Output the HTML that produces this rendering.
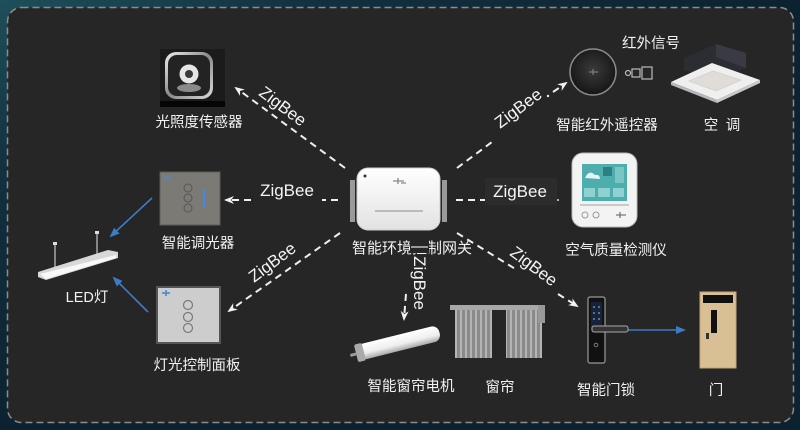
<!DOCTYPE html>
<html>
<head>
<meta charset="utf-8">
<style>
html,body{margin:0;padding:0;background:#0f2732;}
svg{display:block;}
.lbl{font-family:"Liberation Sans","Noto Sans CJK SC",sans-serif;font-size:14.5px;fill:#f2f2f2;text-anchor:middle;}
.zb{font-family:"Liberation Sans",sans-serif;font-size:17px;fill:#f4f4f4;text-anchor:middle;}
.dl{stroke:#efefef;stroke-width:2;stroke-dasharray:7 5;fill:none;}
.bl{stroke:#3f7bc4;stroke-width:1.6;fill:none;}
</style>
</head>
<body>
<svg width="800" height="430" viewBox="0 0 800 430" xmlns="http://www.w3.org/2000/svg">
<defs>
  <radialGradient id="bgg" cx="0" cy="0" r="1">
    <stop offset="0" stop-color="#1d4f5a"/>
    <stop offset="0.4" stop-color="#123040"/>
    <stop offset="1" stop-color="#0c2230"/>
  </radialGradient>
  <linearGradient id="gw" x1="0" y1="0" x2="0" y2="1">
    <stop offset="0" stop-color="#ffffff"/>
    <stop offset="1" stop-color="#e2e2e2"/>
  </linearGradient>
  <radialGradient id="ir" cx="0.5" cy="0.45" r="0.6">
    <stop offset="0" stop-color="#3a3a3a"/>
    <stop offset="0.7" stop-color="#1e1e1e"/>
    <stop offset="1" stop-color="#111"/>
  </radialGradient>
  <linearGradient id="tube" x1="0" y1="0" x2="0" y2="1">
    <stop offset="0" stop-color="#ffffff"/>
    <stop offset="0.6" stop-color="#eeeeee"/>
    <stop offset="1" stop-color="#a8a8a8"/>
  </linearGradient>
  <pattern id="str" width="5" height="10" patternUnits="userSpaceOnUse">
    <rect width="5" height="10" fill="#8a8a8a"/>
    <rect width="2" height="10" fill="#b4b4b4"/>
  </pattern>
  <linearGradient id="sens" x1="0" y1="0" x2="1" y2="1">
    <stop offset="0" stop-color="#f0f0f0"/>
    <stop offset="0.5" stop-color="#8a8a8a"/>
    <stop offset="1" stop-color="#dcdcdc"/>
  </linearGradient>
  <marker id="wa" viewBox="0 0 10 10" refX="8" refY="5" markerWidth="10" markerHeight="10" markerUnits="userSpaceOnUse" orient="auto">
    <path d="M0,1 L10,5 L0,9 L3,5 z" fill="#f2f2f2"/>
  </marker>
  <marker id="ba" viewBox="0 0 10 10" refX="8" refY="5" markerWidth="10" markerHeight="10" markerUnits="userSpaceOnUse" orient="auto">
    <path d="M0,1 L10,5 L0,9 z" fill="#3f7bc4"/>
  </marker>
</defs>

<!-- background -->
<rect width="800" height="430" fill="url(#bgg)"/>
<rect x="7.5" y="7.5" width="786" height="415" rx="14" fill="#262626" stroke="#8c8c8c" stroke-width="1.5" stroke-dasharray="7 4"/>

<!-- ===== connectors ===== -->
<line class="dl" x1="345" y1="168" x2="236" y2="88" marker-end="url(#wa)"/>
<line class="dl" x1="338" y1="200" x2="322" y2="200"/>
<line class="dl" x1="251" y1="200" x2="226" y2="200" marker-end="url(#wa)"/>
<line class="dl" x1="457" y1="168" x2="492" y2="142"/>
<line class="dl" x1="553" y1="92" x2="566" y2="83" stroke-dasharray="none" marker-end="url(#wa)"/>
<circle cx="548" cy="96" r="1.2" fill="#eee"/>
<line class="dl" x1="456" y1="200" x2="485" y2="200"/>
<line class="dl" x1="340" y1="233" x2="229" y2="311" marker-end="url(#wa)"/>
<line class="dl" x1="457" y1="233" x2="517" y2="270"/>
<line class="dl" x1="558" y1="294" x2="577" y2="306" marker-end="url(#wa)"/>
<line class="dl" x1="406" y1="294" x2="404" y2="319" marker-end="url(#wa)"/>

<!-- blue arrows -->
<line class="bl" x1="152" y1="198" x2="111" y2="236" marker-end="url(#ba)"/>
<line class="bl" x1="148" y1="312" x2="114" y2="278" marker-end="url(#ba)"/>
<line class="bl" x1="628" y1="330" x2="684" y2="330" marker-end="url(#ba)"/>

<!-- ===== light sensor ===== -->
<rect x="160" y="49" width="65" height="58" fill="#1b1b1b"/>
<rect x="160" y="101" width="65" height="6" fill="#050505"/>
<rect x="165" y="52" width="48" height="47" rx="11" fill="url(#sens)"/>
<rect x="168" y="55" width="42" height="41" rx="9" fill="#232323"/>
<ellipse cx="189" cy="88" rx="12" ry="4" fill="#8a8a8a"/>
<circle cx="189" cy="74" r="9.5" fill="#e6e6e6"/>
<circle cx="189" cy="74" r="4" fill="#3a3a3a"/>

<!-- ===== dimmer ===== -->
<rect x="160" y="172" width="60" height="53" fill="#7c7a75" stroke="#5e5c58" stroke-width="1"/>
<circle cx="188" cy="188" r="4" fill="none" stroke="#555" stroke-width="1"/>
<circle cx="188" cy="198" r="4" fill="none" stroke="#555" stroke-width="1"/>
<circle cx="188" cy="208" r="4" fill="none" stroke="#555" stroke-width="1"/>
<line x1="204" y1="190" x2="204" y2="207" stroke="#4d86d9" stroke-width="2.5"/>
<path d="M164,178 L171,178 M166,176 L164,178 L166,180" stroke="#4d86d9" stroke-width="1.3" fill="none"/>

<!-- ===== lighting panel ===== -->
<rect x="157" y="287" width="63" height="56" fill="#cdcdcd" stroke="#555" stroke-width="2"/>
<circle cx="188" cy="305" r="4.5" fill="none" stroke="#7a7a7a" stroke-width="1.2"/>
<circle cx="188" cy="317" r="4.5" fill="none" stroke="#7a7a7a" stroke-width="1.2"/>
<circle cx="188" cy="328" r="4.5" fill="none" stroke="#7a7a7a" stroke-width="1.2"/>
<path d="M162,293 L170,293 M166,290 L166,296" stroke="#3f85d8" stroke-width="1.5"/>

<!-- ===== LED light ===== -->
<line x1="55" y1="244" x2="55" y2="268" stroke="#bbb" stroke-width="1.3"/>
<line x1="97" y1="233" x2="97" y2="255" stroke="#bbb" stroke-width="1.3"/>
<rect x="53" y="242" width="4" height="3" fill="#ddd"/>
<rect x="95" y="231" width="4" height="3" fill="#ddd"/>
<polygon points="38,272 108,250 118,252 118,258 46,280 38,277" fill="#d8d8d8"/>
<polygon points="40,274 116,255 116,258 46,279" fill="#f8f8f8"/>

<!-- ===== gateway ===== -->
<rect x="350" y="180" width="5" height="42" fill="#9a9a9a"/>
<rect x="442" y="180" width="5" height="42" fill="#9a9a9a"/>
<rect x="357" y="168" width="83" height="62" rx="11" fill="url(#gw)" stroke="#cfcfcf"/>
<circle cx="365" cy="176" r="1.5" fill="#333"/>
<path d="M393,181 L404,181 M398,178 L398,184 M401,183 L406,183" stroke="#888" stroke-width="1.3"/>
<line x1="375" y1="211" x2="423" y2="211" stroke="#aaa" stroke-width="1.5"/>

<!-- ===== air quality monitor ===== -->
<rect x="572" y="153" width="65" height="74" rx="11" fill="#f3f3f3" stroke="#b8b8b8"/>
<rect x="582" y="164" width="45" height="37" fill="#4eadad"/>
<path d="M585,178 q4,-9 10,-3 q5,-1 5,4 z" fill="#e8f4f4"/>
<rect x="603" y="167" width="9" height="9" fill="#2d7f83"/>
<rect x="615" y="167" width="9" height="16" fill="#7cc5c5"/>
<rect x="584" y="188" width="11" height="9" fill="#8fd0d0"/>
<rect x="598" y="188" width="12" height="9" fill="#8fd0d0"/>
<rect x="613" y="188" width="11" height="9" fill="#8fd0d0"/>
<line x1="580" y1="205" x2="629" y2="205" stroke="#bbb" stroke-width="1.5"/>
<circle cx="585" cy="215" r="3" fill="none" stroke="#999"/>
<circle cx="596" cy="215" r="3" fill="none" stroke="#999"/>
<path d="M616,215 L626,215 M620,212 L620,218" stroke="#777" stroke-width="1.3"/>

<!-- ===== IR remote ===== -->
<circle cx="593" cy="72" r="23" fill="url(#ir)" stroke="#8a8a8a" stroke-width="1.5"/>
<path d="M589,72 L598,72 M593,69 L593,75" stroke="#888" stroke-width="1"/>
<circle cx="628" cy="73" r="2.5" fill="none" stroke="#bbb" stroke-width="1.2"/>
<rect x="632" y="69" width="8" height="8" fill="none" stroke="#bbb" stroke-width="1.2"/>
<rect x="642" y="67" width="10" height="12" fill="none" stroke="#bbb" stroke-width="1.2"/>

<!-- ===== AC ===== -->
<polygon points="684,58 716,44 746,53 746,68 715,80 684,70" fill="#2c2c33"/>
<polygon points="716,44 746,53 746,68 716,57" fill="#3a3a44"/>
<polygon points="671,82 712,63 760,80 717,100" fill="#efefef"/>
<polygon points="671,82 717,100 717,103 671,85" fill="#b8b8b8"/>
<polygon points="717,100 760,80 760,83 717,103" fill="#cacaca"/>
<polygon points="689,81 713,71 741,80 716,91" fill="#e0ddd8" stroke="#cfcfcf" stroke-width="0.8"/>

<!-- ===== curtain motor ===== -->
<g transform="translate(358,353) rotate(-14)">
  <rect x="0" y="-8" width="84" height="16" rx="7" fill="url(#tube)"/>
  <rect x="-2" y="-9" width="8" height="18" rx="2" fill="#aaa"/>
  <rect x="-8" y="-1" width="7" height="3" fill="#999"/>
</g>

<!-- ===== curtain ===== -->
<rect x="450" y="305" width="93" height="5" fill="#a8a8a8"/>
<rect x="455" y="310" width="37" height="48" fill="url(#str)"/>
<rect x="506" y="310" width="36" height="48" fill="url(#str)"/>
<rect x="538" y="305" width="7" height="18" fill="#999"/>

<!-- ===== door lock ===== -->
<rect x="588" y="297" width="17" height="66" rx="2" fill="#111" stroke="#9a9a9a" stroke-width="1.2"/>
<rect x="591" y="302" width="11" height="28" fill="#17233a"/>
<circle cx="594" cy="307" r="0.9" fill="#8ab"/><circle cx="599" cy="307" r="0.9" fill="#8ab"/>
<circle cx="594" cy="313" r="0.9" fill="#8ab"/><circle cx="599" cy="313" r="0.9" fill="#8ab"/>
<circle cx="594" cy="319" r="0.9" fill="#8ab"/><circle cx="599" cy="319" r="0.9" fill="#8ab"/>
<rect x="592" y="326" width="36" height="6" rx="2" fill="#333" stroke="#aaa" stroke-width="1"/>
<circle cx="596" cy="345" r="1.8" fill="none" stroke="#777"/>

<!-- ===== door ===== -->
<rect x="700" y="292" width="36" height="76" fill="#d8bf94" stroke="#c2a67a"/>
<rect x="703" y="295" width="30" height="8" fill="#111"/>
<rect x="711" y="310" width="6" height="23" fill="#111"/>
<rect x="706" y="333" width="3" height="6" fill="#333"/>

<!-- ===== ZigBee labels ===== -->
<text class="zb" transform="translate(283,106) rotate(37)" x="0" y="6">ZigBee</text>
<text class="zb" x="287" y="196">ZigBee</text>
<text class="zb" transform="translate(518,108) rotate(-37)" x="0" y="6">ZigBee</text>
<rect x="485" y="178" width="72" height="27" fill="#2c2c2c"/>
<text class="zb" x="520" y="197">ZigBee</text>
<circle cx="558" cy="200" r="1" fill="#ddd"/>
<text class="zb" transform="translate(272,262) rotate(-37)" x="0" y="6">ZigBee</text>
<text class="zb" transform="translate(534,266) rotate(37)" x="0" y="6">ZigBee</text>

<!-- ===== device labels ===== -->
<text class="lbl" x="199" y="127">光照度传感器</text>
<text class="lbl" x="198" y="248">智能调光器</text>
<text class="lbl" x="197" y="370">灯光控制面板</text>
<text class="lbl" x="87" y="302">LED灯</text>
<text class="lbl" x="412" y="253" style="font-size:15px">智能环境控制网关</text>
<rect x="410" y="240" width="19" height="13" fill="#262626"/>
<line x1="411" y1="247" x2="428" y2="247" stroke="#ddd" stroke-width="1.2"/>
<text class="zb" transform="translate(420,283) rotate(90)" x="0" y="6">ZigBee</text>
<text class="lbl" x="616" y="255">空气质量检测仪</text>
<text class="lbl" x="607" y="130">智能红外遥控器</text>
<text class="lbl" x="651" y="48">红外信号</text>
<text class="lbl" x="711" y="130">空</text>
<text class="lbl" x="733" y="130">调</text>
<text class="lbl" x="411" y="391">智能窗帘电机</text>
<text class="lbl" x="500" y="392">窗帘</text>
<text class="lbl" x="606" y="395">智能门锁</text>
<text class="lbl" x="716" y="395">门</text>
</svg>
</body>
</html>
